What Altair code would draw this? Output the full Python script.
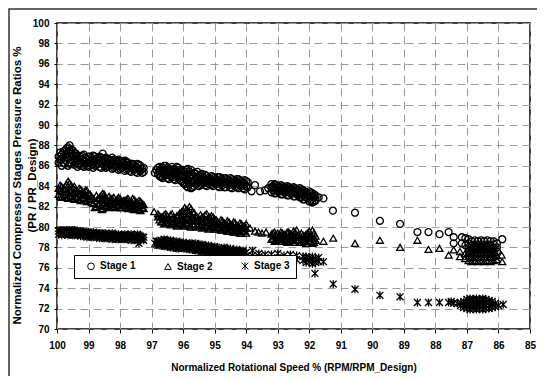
import altair as alt
import pandas as pd

stages = ["Stage 1", "Stage 2", "Stage 3"]
star_path = "M-1,-1L1,1M-1,1L1,-1M0,-1.15L0,1.15"
shapes = ["circle", "triangle-up", star_path]

x_ticks = [100, 99, 98, 97, 96, 95, 94, 93, 92, 91, 90, 89, 88, 87, 86, 85]
y_ticks = [70, 72, 74, 76, 78, 80, 82, 84, 86, 88, 90, 92, 94, 96, 98, 100]

# (normalized speed %, [pressure ratios %])
stage1_cols = [
    (99.95, [86.3, 86.9]), (99.85, [86.0, 86.6, 87.1]), (99.75, [86.2, 87.0, 87.5]),
    (99.65, [86.0, 86.8, 87.8]), (99.55, [86.3, 87.2, 87.6]), (99.45, [86.1, 86.7, 87.3]),
    (99.35, [85.9, 86.5, 87.0]), (99.25, [86.2, 86.9]), (99.15, [85.9, 86.4, 87.1]),
    (99.05, [86.0, 86.6]), (98.95, [86.3, 86.9]), (98.85, [85.8, 86.4, 87.0]),
    (98.75, [86.1, 86.7]), (98.65, [85.9, 86.5, 86.9]), (98.55, [86.2, 86.6, 87.2]),
    (98.45, [85.8, 86.4, 86.8]), (98.35, [86.0, 86.6]), (98.25, [85.7, 86.3, 86.8]),
    (98.15, [85.9, 86.5]), (98.05, [85.6, 86.2, 86.6]), (97.95, [85.8, 86.4]),
    (97.85, [85.5, 86.0, 86.5]), (97.75, [85.7, 86.3]), (97.65, [85.4, 85.9, 86.2]),
    (97.55, [85.6, 86.1]), (97.45, [85.3, 85.8, 86.2]), (97.35, [85.5, 86.0]),
    (97.25, [85.4, 85.8]),
    (96.9, [85.3]), (96.85, [85.6]), (96.75, [85.0, 85.5, 85.9]), (96.65, [84.8, 85.3, 85.8]),
    (96.55, [85.1, 85.6, 86.0]), (96.45, [84.7, 85.2, 85.7]), (96.35, [84.9, 85.4, 85.9]),
    (96.25, [84.6, 85.1, 85.6]), (96.15, [84.8, 85.3, 85.8]), (96.05, [84.5, 85.0, 85.5]),
    (95.95, [84.2, 84.8, 85.4]), (95.85, [83.9, 84.5, 85.2, 85.7]), (95.75, [83.8, 84.4, 85.0, 85.6]),
    (95.65, [84.0, 84.6, 85.3]), (95.55, [84.3, 84.9, 85.4]), (95.45, [84.1, 84.6, 85.1]),
    (95.35, [84.3, 84.8]), (95.25, [84.0, 84.5, 85.0]), (95.15, [84.2, 84.7]),
    (95.05, [84.0, 84.4, 84.9]), (94.95, [84.2, 84.7]), (94.85, [83.9, 84.4, 84.9]),
    (94.75, [84.1, 84.6]), (94.65, [83.9, 84.3, 84.8]), (94.55, [84.1, 84.6]),
    (94.45, [83.8, 84.3, 84.7]), (94.35, [84.0, 84.5]), (94.25, [83.8, 84.2, 84.7]),
    (94.15, [84.0, 84.5]), (94.05, [83.7, 84.2, 84.6]), (93.95, [83.9, 84.4]),
    (93.83, [83.5]), (93.72, [84.1]), (93.56, [83.5]), (93.4, [83.6]), (93.3, [83.8]),
    (93.2, [83.4, 83.9, 84.2]), (93.1, [83.3, 83.8, 84.2]), (93.0, [83.5, 84.0]),
    (92.9, [83.2, 83.7, 84.1]), (92.8, [83.4, 83.9]), (92.7, [83.1, 83.6, 84.0]),
    (92.6, [83.3, 83.8]), (92.5, [83.0, 83.5, 83.9]), (92.4, [83.2, 83.7]),
    (92.3, [82.9, 83.4, 83.8]), (92.2, [82.7, 83.2, 83.6]), (92.1, [82.9, 83.4]),
    (92.0, [82.5, 83.0, 83.5]), (91.9, [82.4, 82.9, 83.3]), (91.8, [82.6, 83.1]),
    (91.7, [82.9]), (91.55, [82.8]),
    (91.25, [81.6]), (90.55, [81.4]), (89.76, [80.6]), (89.12, [80.3]), (88.57, [79.5]),
    (88.22, [79.5]), (87.87, [79.3]), (87.58, [79.5]), (87.42, [79.0, 78.4]),
    (87.16, [79.0, 78.4]), (87.05, [78.9, 78.2]),
    (86.95, [77.6, 78.0, 78.4, 78.8]), (86.85, [77.4, 77.8, 78.2, 78.6]),
    (86.75, [77.5, 77.9, 78.3, 78.7]), (86.65, [77.4, 77.8, 78.2, 78.6]),
    (86.55, [77.5, 77.9, 78.3, 78.7]), (86.45, [77.4, 77.8, 78.2, 78.6]),
    (86.35, [77.5, 77.9, 78.3, 78.7]), (86.25, [77.4, 77.8, 78.2, 78.6]),
    (86.15, [77.5, 77.9, 78.3, 78.6]), (86.05, [77.6, 78.0, 78.4]),
    (85.88, [78.8]),
]
stage1_more = [
    (99.9, [86.6, 87.3]), (99.8, [86.3, 86.9, 87.4]), (99.7, [86.5, 87.2, 87.7]),
    (99.6, [86.2, 86.9, 87.5, 88.0]), (99.5, [86.5, 87.0, 87.5]), (99.4, [86.3, 86.9, 87.2]),
    (99.3, [86.1, 86.7]), (99.2, [86.0, 86.6, 87.0]), (99.1, [86.2, 86.8]),
    (99.0, [85.9, 86.4, 86.9]), (98.9, [86.1, 86.6]), (98.8, [86.0, 86.5, 86.9]),
    (98.7, [86.2, 86.8]), (98.6, [85.8, 86.3, 86.8]), (98.5, [86.0, 86.6]),
    (98.4, [85.9, 86.2, 86.7]), (98.3, [86.1, 86.5]), (98.2, [85.8, 86.1, 86.6]),
    (98.1, [86.0, 86.4]), (98.0, [85.7, 86.0, 86.5]), (97.9, [85.9, 86.3]),
    (97.8, [85.6, 86.1, 86.4]), (97.7, [85.5, 86.0]), (97.6, [85.7, 86.2]),
    (97.5, [85.4, 85.9]), (97.4, [85.6, 86.1]), (97.3, [85.3, 85.7]),
    (96.8, [85.2, 85.8]), (96.7, [84.9, 85.4, 85.7]), (96.6, [85.0, 85.5, 86.0]),
    (96.5, [84.8, 85.4, 85.8]), (96.4, [85.0, 85.5]), (96.3, [84.7, 85.2, 85.7]),
    (96.2, [84.9, 85.4, 85.9]), (96.1, [84.6, 85.1, 85.6]), (96.0, [84.3, 84.9, 85.6]),
    (95.9, [84.0, 84.6, 85.1, 85.6]), (95.8, [84.2, 84.8, 85.4]), (95.7, [83.9, 84.5, 85.1]),
    (95.6, [84.2, 84.8, 85.2]), (95.5, [84.0, 84.5, 85.0]), (95.4, [84.2, 84.7, 85.2]),
    (95.3, [84.1, 84.6, 85.1]), (95.2, [84.3, 84.8]), (95.1, [84.1, 84.5, 85.0]),
    (95.0, [84.3, 84.8]), (94.9, [84.0, 84.5, 84.9]), (94.8, [84.2, 84.7]),
    (94.7, [83.9, 84.4, 84.8]), (94.6, [84.2, 84.7]), (94.5, [83.9, 84.4, 84.8]),
    (94.4, [84.1, 84.6]), (94.3, [83.9, 84.4, 84.7]), (94.2, [84.1, 84.6]),
    (94.1, [83.8, 84.3]), (94.0, [84.0, 84.5]),
    (93.15, [83.6, 84.0]), (93.05, [83.3, 83.7, 84.1]), (92.95, [83.5, 83.9]),
    (92.85, [83.2, 83.6, 84.0]), (92.75, [83.4, 83.8]), (92.65, [83.1, 83.5, 83.9]),
    (92.55, [83.3, 83.7]), (92.45, [83.0, 83.4, 83.8]), (92.35, [83.2, 83.6]),
    (92.25, [82.9, 83.3, 83.7]), (92.15, [82.7, 83.1, 83.5]), (92.05, [82.8, 83.2]),
    (91.95, [82.6, 83.0, 83.4]), (91.85, [82.5, 82.9, 83.2]),
]

stage2_cols = [
    (99.95, [83.2, 83.8]), (99.85, [82.9, 83.5, 84.0]), (99.75, [83.1, 83.7]),
    (99.65, [82.8, 83.4, 84.5]), (99.55, [83.0, 83.6, 84.1]), (99.45, [82.7, 83.3, 84.0]),
    (99.35, [82.9, 83.5]), (99.25, [82.6, 83.2, 83.7]), (99.15, [82.8, 83.4]),
    (99.05, [82.5, 83.1, 83.6]), (98.95, [82.7, 83.2]), (98.85, [82.3, 82.8]),
    (98.8, [81.9]), (98.75, [82.0, 82.6, 83.1]), (98.65, [82.3, 82.9]),
    (98.58, [81.7]), (98.55, [81.8, 82.4, 83.3]), (98.45, [82.1, 82.7]),
    (98.35, [81.9, 82.5, 83.0]), (98.25, [82.2, 82.8]), (98.15, [81.9, 82.4]),
    (98.05, [82.1, 82.6, 82.9]), (97.95, [81.9, 82.4]), (97.85, [82.1, 82.6]),
    (97.75, [81.8, 82.3, 82.8]), (97.65, [82.0, 82.5]), (97.55, [81.7, 82.2, 82.7]),
    (97.45, [81.9, 82.4]), (97.35, [81.6, 82.1, 82.5]), (97.25, [81.8, 82.2]),
    (96.92, [81.5]), (96.8, [81.0, 81.3]), (96.7, [80.5, 81.0]), (96.6, [80.3, 80.8, 81.2]),
    (96.5, [80.6, 81.1]), (96.4, [80.2, 80.7, 81.2]), (96.3, [80.5, 81.0]),
    (96.2, [80.1, 80.6, 81.1]), (96.1, [80.4, 80.9, 81.4]), (96.0, [80.2, 80.8, 81.6]),
    (95.9, [80.4, 81.0, 81.7]), (95.8, [80.1, 80.7, 81.3, 82.0]), (95.7, [80.3, 80.9, 81.5]),
    (95.6, [80.0, 80.6, 81.1]), (95.5, [80.3, 80.8]), (95.4, [79.9, 80.5, 81.0]),
    (95.3, [80.2, 80.7, 81.2]), (95.2, [79.8, 80.4, 80.9]), (95.1, [80.1, 80.6, 81.1]),
    (95.0, [79.8, 80.3, 80.8]), (94.9, [80.0, 80.5]), (94.8, [79.7, 80.2, 80.7]),
    (94.7, [79.9, 80.4]), (94.6, [79.6, 80.1, 80.6]), (94.5, [79.8, 80.3]),
    (94.4, [79.5, 80.0, 80.5]), (94.3, [79.7, 80.2]), (94.2, [79.4, 79.9, 80.4]),
    (94.1, [79.6, 80.1]), (94.0, [79.4, 79.9, 80.3]), (93.88, [79.9]),
    (93.72, [79.6]), (93.61, [79.5]), (93.5, [79.4]), (93.37, [79.5]),
    (93.2, [78.8, 79.3]), (93.1, [78.6, 79.1, 79.5]), (93.0, [78.9, 79.4]),
    (92.9, [78.6, 79.1, 79.5]), (92.8, [78.8, 79.3]), (92.7, [78.5, 79.0, 79.5]),
    (92.6, [78.8, 79.3]), (92.5, [78.5, 79.0, 79.6]), (92.4, [78.7, 79.2, 79.7]),
    (92.3, [78.5, 79.0]), (92.2, [78.7, 79.2]), (92.1, [78.4, 78.9, 79.3]),
    (92.0, [78.6, 79.1, 79.6]), (91.9, [78.4, 78.9, 79.7]), (91.8, [78.7, 79.1]),
    (91.55, [78.6]), (91.24, [78.9]), (90.55, [78.4]), (89.76, [78.7]), (89.12, [78.0]),
    (88.57, [78.7]), (88.22, [77.8]), (87.87, [77.9]), (87.58, [77.25]), (87.42, [77.75]),
    (87.22, [77.1, 77.6]), (87.06, [76.9, 77.4]),
    (86.95, [76.7, 77.1, 77.5, 77.9]), (86.85, [76.6, 77.0, 77.4, 77.8]),
    (86.75, [76.7, 77.1, 77.5, 77.9]), (86.65, [76.6, 77.0, 77.4, 77.8]),
    (86.55, [76.7, 77.1, 77.5, 77.9]), (86.45, [76.6, 77.0, 77.4, 77.8]),
    (86.35, [76.7, 77.1, 77.5, 77.9]), (86.25, [76.6, 77.0, 77.4, 77.8]),
    (86.15, [76.7, 77.1, 77.5]), (86.05, [76.8, 77.2]),
    (85.9, [77.25]), (85.88, [76.6]),
]
stage2_more = [
    (99.9, [83.0, 83.6, 84.1]), (99.8, [83.2, 83.8]), (99.7, [82.9, 83.5, 84.2]),
    (99.6, [83.1, 83.7, 84.3]), (99.5, [82.8, 83.4, 83.9]), (99.4, [83.0, 83.6]),
    (99.3, [82.7, 83.3, 83.8]), (99.2, [82.9, 83.5]), (99.1, [82.6, 83.2, 83.6]),
    (99.0, [82.8, 83.3]), (98.9, [82.4, 83.0]), (98.7, [82.2, 82.8]),
    (98.6, [82.0, 82.6, 83.1]), (98.5, [82.3, 82.9, 83.2]), (98.4, [82.0, 82.6]),
    (98.3, [82.3, 82.8]), (98.2, [82.0, 82.5, 82.9]), (98.1, [82.2, 82.7]),
    (98.0, [81.9, 82.4, 82.8]), (97.9, [82.1, 82.6]), (97.8, [81.9, 82.4, 82.7]),
    (97.7, [82.1, 82.6]), (97.6, [81.8, 82.3, 82.8]), (97.5, [82.0, 82.5]),
    (97.4, [81.7, 82.2, 82.6]), (97.3, [81.9, 82.3]),
    (96.75, [80.7, 81.1]), (96.65, [80.5, 81.0]), (96.55, [80.4, 80.9, 81.3]),
    (96.45, [80.4, 80.9]), (96.35, [80.3, 80.8, 81.3]), (96.25, [80.3, 80.8]),
    (96.15, [80.2, 80.7, 81.2]), (96.05, [80.3, 80.9, 81.5]), (95.95, [80.1, 80.7, 81.3, 81.9]),
    (95.85, [80.3, 80.9, 81.6]), (95.75, [80.0, 80.6, 81.2, 81.8]), (95.65, [80.2, 80.8, 81.4]),
    (95.55, [80.1, 80.6, 81.0]), (95.45, [80.1, 80.7, 81.2]), (95.35, [80.0, 80.5, 81.0]),
    (95.25, [80.1, 80.6, 81.3]), (95.15, [79.9, 80.4, 81.0]), (95.05, [80.0, 80.5, 81.0]),
    (94.95, [79.8, 80.3, 80.7]), (94.85, [79.9, 80.4]), (94.75, [79.7, 80.2, 80.6]),
    (94.65, [79.8, 80.3]), (94.55, [79.6, 80.1, 80.5]), (94.45, [79.7, 80.2]),
    (94.35, [79.5, 80.0, 80.4]), (94.25, [79.6, 80.1]), (94.15, [79.4, 79.9, 80.3]),
    (94.05, [79.6, 80.1]),
    (93.15, [78.9, 79.4]), (93.05, [78.7, 79.2]), (92.95, [78.8, 79.3]),
    (92.85, [78.6, 79.0, 79.4]), (92.75, [78.7, 79.2]), (92.65, [78.6, 79.1, 79.5]),
    (92.55, [78.7, 79.2]), (92.45, [78.5, 79.0, 79.5]), (92.35, [78.7, 79.2]),
    (92.25, [78.5, 79.0, 79.4]), (92.15, [78.6, 79.1]), (92.05, [78.4, 78.9, 79.4]),
    (91.95, [78.6, 79.1]), (91.85, [78.5, 78.9, 79.4]),
]

stage3_cols = [
    (99.95, [79.3, 79.6]), (99.85, [79.2, 79.5, 79.7]), (99.75, [79.3, 79.6]),
    (99.65, [79.2, 79.5, 79.7]), (99.55, [79.3, 79.6]), (99.45, [79.2, 79.4, 79.7]),
    (99.35, [79.2, 79.5]), (99.25, [79.1, 79.4, 79.6]), (99.15, [79.2, 79.5]),
    (99.05, [79.0, 79.3, 79.5]), (98.95, [79.1, 79.4]), (98.85, [79.0, 79.3, 79.5]),
    (98.75, [79.1, 79.4]), (98.65, [78.9, 79.2, 79.4]), (98.55, [79.0, 79.3]),
    (98.45, [78.9, 79.2, 79.4]), (98.35, [79.0, 79.3]), (98.25, [78.8, 79.1, 79.4]),
    (98.15, [78.9, 79.2]), (98.05, [78.8, 79.1, 79.3]), (97.95, [78.9, 79.2]),
    (97.85, [78.8, 79.1, 79.3]), (97.75, [78.9, 79.2]), (97.65, [78.7, 79.0, 79.3]),
    (97.55, [78.8, 79.1]), (97.45, [78.7, 79.0, 79.3]), (97.4, [78.4]),
    (97.35, [78.8, 79.1]), (97.25, [78.7, 79.0]),
    (96.9, [78.4]), (96.8, [78.2, 78.6]), (96.7, [78.3, 78.7]), (96.6, [78.1, 78.5, 78.8]),
    (96.5, [78.2, 78.6]), (96.4, [78.0, 78.4, 78.7]), (96.3, [78.1, 78.5]),
    (96.2, [77.9, 78.3, 78.6]), (96.1, [78.0, 78.4]), (96.0, [77.9, 78.3, 78.5]),
    (95.9, [78.0, 78.4]), (95.8, [77.8, 78.2, 78.4]), (95.7, [77.9, 78.3]),
    (95.6, [77.7, 78.1, 78.4]), (95.5, [77.8, 78.2]), (95.4, [77.6, 78.0, 78.3]),
    (95.3, [77.7, 78.1]), (95.2, [77.5, 77.9, 78.2]), (95.1, [77.6, 78.0]),
    (95.0, [77.5, 77.9, 78.1]), (94.9, [77.4, 77.8]), (94.8, [77.5, 77.9]),
    (94.7, [77.3, 77.7, 78.0]), (94.6, [77.4, 77.8]), (94.5, [77.2, 77.6, 77.9]),
    (94.4, [77.3, 77.7]), (94.3, [77.2, 77.6, 77.8]), (94.2, [77.3, 77.6]),
    (94.1, [77.1, 77.5, 77.7]), (94.0, [77.2, 77.5]), (93.8, [77.2, 77.7]),
    (93.6, [77.1, 77.4]), (93.4, [77.0, 77.3]), (93.2, [76.9, 77.3]),
    (93.0, [77.0, 77.4]), (92.8, [76.8, 77.2]), (92.6, [76.9, 77.3]),
    (92.4, [76.8, 77.2]), (92.2, [76.7, 77.1]), (92.1, [76.5, 76.9, 77.1]),
    (92.0, [76.6, 77.0]), (91.9, [76.4, 76.8, 77.1]), (91.82, [75.45]),
    (91.8, [76.5, 76.9]), (91.7, [76.6, 77.0]), (91.55, [76.6]),
    (91.24, [74.4]), (90.55, [73.9]), (89.76, [73.3]), (89.12, [73.15]), (88.57, [72.6]),
    (88.22, [72.6]), (87.87, [72.6]), (87.58, [72.6]), (87.5, [72.7]), (87.42, [72.55]),
    (87.3, [72.5]), (87.2, [72.3, 72.6]), (87.1, [72.1, 72.4, 72.7]),
    (87.0, [72.0, 72.3, 72.6, 72.9]), (86.9, [71.9, 72.2, 72.5, 72.8, 73.0]),
    (86.8, [72.0, 72.3, 72.6, 72.9]), (86.7, [71.9, 72.2, 72.5, 72.8, 73.0]),
    (86.6, [72.0, 72.3, 72.6, 72.9]), (86.5, [71.9, 72.2, 72.5, 72.8, 73.0]),
    (86.4, [72.0, 72.3, 72.6, 72.9]), (86.3, [72.0, 72.3, 72.6, 72.8]),
    (86.2, [72.1, 72.4, 72.7]), (86.1, [72.2, 72.5]), (86.0, [72.3]),
    (85.85, [72.4]),
]
stage3_more = [
    (99.9, [79.4, 79.7]), (99.8, [79.3, 79.6]), (99.7, [79.4, 79.7]), (99.6, [79.3, 79.6]),
    (99.5, [79.2, 79.5, 79.7]), (99.4, [79.3, 79.6]), (99.3, [79.3, 79.6]), (99.2, [79.2, 79.5]),
    (99.1, [79.1, 79.4]), (99.0, [79.2, 79.5]), (98.9, [79.0, 79.3]), (98.8, [79.2, 79.4]),
    (98.7, [79.0, 79.3]), (98.6, [79.1, 79.4]), (98.5, [78.9, 79.2]), (98.4, [79.1, 79.3]),
    (98.3, [78.9, 79.2]), (98.2, [79.0, 79.3]), (98.1, [78.8, 79.1]), (98.0, [79.0, 79.2]),
    (97.9, [78.8, 79.1]), (97.8, [78.9, 79.2]), (97.7, [78.8, 79.1]), (97.6, [78.9, 79.2]),
    (97.5, [78.7, 79.0]), (97.4, [78.9, 79.2]), (97.3, [78.8, 79.0]),
    (96.85, [78.3, 78.6]), (96.75, [78.2, 78.5]), (96.65, [78.3, 78.6]),
    (96.55, [78.1, 78.4, 78.7]), (96.45, [78.2, 78.5]), (96.35, [78.0, 78.3, 78.6]),
    (96.25, [78.1, 78.4]), (96.15, [77.9, 78.2, 78.5]), (96.05, [78.1, 78.4]),
    (95.95, [77.9, 78.2]), (95.85, [78.0, 78.3]), (95.75, [77.8, 78.1, 78.4]),
    (95.65, [77.9, 78.2]), (95.55, [77.7, 78.0, 78.3]), (95.45, [77.8, 78.1]),
    (95.35, [77.6, 77.9, 78.2]), (95.25, [77.7, 78.0]), (95.15, [77.5, 77.8, 78.1]),
    (95.05, [77.6, 77.9]), (94.95, [77.5, 77.8, 78.0]), (94.85, [77.4, 77.7]),
    (94.75, [77.5, 77.8]), (94.65, [77.3, 77.6, 77.9]), (94.55, [77.4, 77.7]),
    (94.45, [77.3, 77.6]), (94.35, [77.4, 77.7]), (94.25, [77.2, 77.5]),
    (94.15, [77.3, 77.6]), (94.05, [77.1, 77.4]),
]

rows = []
series = [stage1_cols + stage1_more, stage2_cols + stage2_more, stage3_cols + stage3_more]
for stage, cols in zip(stages, series):
    for speed, prs in cols:
        for pr in prs:
            rows.append({"speed": speed, "pr": pr, "stage": stage})
df = pd.DataFrame(rows)

FONT = "Liberation Sans"

points = alt.Chart(df).mark_point(
    filled=False, color="black", strokeWidth=1.3, opacity=1, size=48
).encode(
    x=alt.X(
        "speed:Q",
        scale=alt.Scale(domain=[85, 100], reverse=True, nice=False, zero=False),
        axis=alt.Axis(
            values=x_ticks, format="d",
            title="Normalized Rotational Speed % (RPM/RPM_Design)",
            titleFontSize=10, titleY=38, titleBaseline="middle",
            tickSize=4, labelPadding=7, labelFlush=False, labelOverlap=False,
        ),
    ),
    y=alt.Y(
        "pr:Q",
        scale=alt.Scale(domain=[70, 100], nice=False, zero=False),
        axis=alt.Axis(
            values=y_ticks, format="d",
            title=["Normalized Compressor Stages Pressure Ratios %", "(PR / PR_Design)"],
            titleFontSize=11.5, titleLineHeight=15, titleX=-35, titleY=162,
            titleAngle=270, titleAlign="center", titleBaseline="bottom",
            tickSize=3, labelPadding=5, labelOverlap=False,
        ),
    ),
    shape=alt.Shape(
        "stage:N",
        scale=alt.Scale(domain=stages, range=shapes),
        legend=alt.Legend(
            orient="none", legendX=17, legendY=232, direction="horizontal",
            title=" ", titleOrient="left", titlePadding=6, titleFontSize=10,
            fillColor="white", strokeColor="black", padding=6,
            columnPadding=26, labelExpr="datum.label + '   '",
            labelFont=FONT, labelFontWeight="bold", labelFontSize=10,
            labelColor="black", labelOffset=4,
            symbolSize=45, symbolStrokeWidth=1, symbolStrokeColor="black",
            symbolFillColor="transparent",
        ),
    ),
)

frame = alt.Chart(pd.DataFrame({"f": [0]})).mark_rect(
    fill="transparent", stroke="#333333", strokeWidth=1.5
).encode(
    x=alt.value(-48), x2=alt.value(700), y=alt.value(-14), y2=alt.value(700)
)

chart = alt.layer(frame, points).properties(
    width=473, height=306,
    autosize=alt.AutoSizeParams(type="none"),
    padding={"left": 49, "top": 15, "right": 7, "bottom": 47},
    background="white",
).configure_view(
    stroke="black", strokeWidth=1.5
).configure_axis(
    labelFont=FONT, labelFontWeight="bold", labelFontSize=10, labelColor="black",
    titleFont=FONT, titleFontWeight="bold", titleColor="black",
    domain=False, tickColor="black", tickWidth=1,
    grid=True, gridColor="#9a9a9a", gridDash=[8, 5], gridWidth=1,
)

chart.save("out.html", embed_options={"renderer": "svg", "actions": False})
